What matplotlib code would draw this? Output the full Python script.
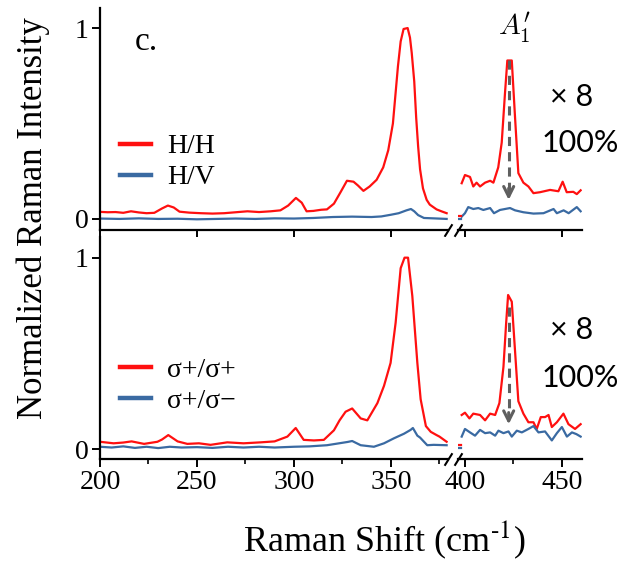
import matplotlib.pyplot as plt
from matplotlib.lines import Line2D

plt.rcParams['font.family'] = ['Liberation Serif', 'DejaVu Serif']
plt.rcParams['mathtext.fontset'] = 'stix'

RED = '#ff1010'
BLUE = '#3a6aa2'
GREY = '#5f5f5f'

# ---- H/H and H/V spectra (top panel) ----
hh_low_x = [200, 204, 208, 212, 216, 220, 224, 228, 232, 235, 238, 241, 246, 252,
            258, 264, 270, 276, 282, 288, 293, 297, 301, 304, 306.5, 310, 314, 317,
            320.6, 324, 327.3, 330.7, 333, 335.8, 339, 342.6, 346, 348.6, 351,
            353.6, 355, 356.5, 358.6, 359.8, 360.7, 362, 363, 364, 365, 366.5,
            368.4, 370, 373.5, 376, 378.7]
hh_low_y = [0.037, 0.035, 0.036, 0.032, 0.040, 0.034, 0.030, 0.032, 0.055, 0.070,
            0.060, 0.038, 0.033, 0.030, 0.028, 0.030, 0.035, 0.040, 0.036, 0.040,
            0.045, 0.070, 0.110, 0.085, 0.040, 0.042, 0.048, 0.050, 0.080, 0.140,
            0.200, 0.195, 0.175, 0.147, 0.170, 0.205, 0.270, 0.360, 0.500, 0.800,
            0.930, 0.995, 1.000, 0.950, 0.870, 0.720, 0.530, 0.380, 0.260, 0.160,
            0.100, 0.075, 0.050, 0.040, 0.030]
hv_low_x = [200, 210, 220, 230, 240, 250, 260, 270, 280, 290, 300, 310, 320, 330,
            340, 345, 350, 354, 358, 360.3, 362, 364, 367, 372, 378.7]
hv_low_y = [0.002, 0.000, 0.003, 0.000, 0.001, -0.002, 0.000, 0.002, 0.000, 0.003,
            0.002, 0.005, 0.010, 0.012, 0.010, 0.013, 0.022, 0.030, 0.045, 0.052,
            0.040, 0.020, 0.005, 0.003, 0.000]

# A1' region, shown x8
hh_high_x = [398.3, 400, 402.6, 404.3, 406, 407.8, 410.4, 413, 414.7, 417.2, 419,
             420.7, 421.9, 424.2, 425.9, 427.6, 430.2, 432.8, 435.4, 438.8, 444,
             448.3, 450.5, 452.6, 456, 457.8, 459.8]
hh_high_y = [0.187, 0.230, 0.220, 0.170, 0.190, 0.170, 0.190, 0.200, 0.190, 0.270,
             0.400, 0.660, 0.830, 0.830, 0.530, 0.240, 0.190, 0.170, 0.135, 0.140,
             0.152, 0.145, 0.195, 0.140, 0.142, 0.130, 0.150]
hv_high_x = [398.3, 400, 401.7, 404.3, 406.9, 409.5, 413, 415, 418.1, 423.3, 425.9,
             430.2, 435.4, 440.6, 445.8, 447.5, 451, 453.6, 457.8, 459.8]
hv_high_y = [0.012, 0.030, 0.062, 0.052, 0.057, 0.047, 0.057, 0.030, 0.047, 0.057,
             0.045, 0.035, 0.028, 0.030, 0.052, 0.030, 0.045, 0.030, 0.062, 0.040]

# ---- circular polarisation spectra (bottom panel) ----
pp_low_x = [200, 207, 212, 216.3, 222.7, 229.6, 232, 235.2, 240, 245, 251, 257,
            265.6, 274, 282.8, 290, 296.6, 300.9, 305, 310.3, 315.4, 320.6, 323.5,
            326.6, 330, 334.4, 337.8, 343, 346.4, 349.8, 352.4, 355, 357, 358.8,
            361, 363.6, 365.3, 368, 370.5, 373.5, 375, 378.7]
pp_low_y = [0.038, 0.030, 0.034, 0.040, 0.027, 0.038, 0.050, 0.073, 0.040, 0.027,
            0.030, 0.022, 0.035, 0.030, 0.035, 0.040, 0.065, 0.110, 0.048, 0.045,
            0.048, 0.098, 0.150, 0.195, 0.212, 0.160, 0.150, 0.240, 0.330, 0.450,
            0.660, 0.945, 1.000, 1.000, 0.800, 0.450, 0.260, 0.120, 0.090, 0.073,
            0.065, 0.038]
pm_low_x = [200, 206, 212, 218, 224, 230, 236, 242, 250, 258, 266, 274, 282, 290,
            300, 308, 317, 322, 327.6, 330, 334.4, 341.2, 346.4, 351.5, 356.7,
            360.1, 361.3, 363.6, 365, 368.7, 372, 378.7]
pm_low_y = [0.012, 0.008, 0.014, 0.006, 0.012, 0.005, 0.012, 0.008, 0.010, 0.006,
            0.012, 0.008, 0.012, 0.008, 0.012, 0.014, 0.020, 0.028, 0.037, 0.042,
            0.020, 0.012, 0.030, 0.056, 0.080, 0.100, 0.110, 0.070, 0.060, 0.020,
            0.022, 0.020]

pp_high_x = [398.3, 400, 402.3, 404.3, 407.8, 410.4, 413, 415.6, 417.8, 419.9,
             421.3, 422.3, 424.2, 425.9, 427.6, 430.2, 432.8, 435.4, 437.1, 439.2,
             441.4, 443.2, 444.9, 447.5, 450.9, 453.5, 456.9, 459.8]
pp_high_y = [0.178, 0.190, 0.160, 0.185, 0.178, 0.150, 0.185, 0.178, 0.240, 0.430,
             0.660, 0.805, 0.770, 0.510, 0.250, 0.185, 0.140, 0.140, 0.105, 0.167,
             0.167, 0.178, 0.115, 0.140, 0.185, 0.130, 0.105, 0.130]
pm_high_x = [398.3, 400, 402.6, 405.2, 407.8, 410.4, 413, 415.6, 417.3, 419.9,
             422.5, 424.2, 426.8, 429.4, 432.8, 435.4, 438, 441.4, 444.9, 447.5,
             450.1, 452.7, 455.3, 457.6, 459.8]
pm_high_y = [0.065, 0.105, 0.087, 0.070, 0.100, 0.083, 0.087, 0.070, 0.096, 0.083,
             0.092, 0.065, 0.096, 0.087, 0.105, 0.120, 0.087, 0.092, 0.045, 0.083,
             0.115, 0.065, 0.087, 0.078, 0.065]

# unscaled stub just before the x8 section
stub_x = [396.6, 398.0]
stub_top = {'red': [0.016, 0.016], 'blue': [0.0, 0.0]}
stub_bottom = {'red': [0.020, 0.020], 'blue': [0.005, 0.005]}

arrow_x = 422.6
arrow_top = [0.83, 0.74]
arrow_tip = [0.085, 0.115]

panels = [
    dict(labels=['H/H', 'H/V'],
         low=[(hh_low_x, hh_low_y), (hv_low_x, hv_low_y)],
         high=[(hh_high_x, hh_high_y), (hv_high_x, hv_high_y)],
         stub=stub_top, ylim=(-0.058, 1.105), bottom_px=230, legend_y=0.306),
    dict(labels=['σ+/σ+', 'σ+/σ−'],
         low=[(pp_low_x, pp_low_y), (pm_low_x, pm_low_y)],
         high=[(pp_high_x, pp_high_y), (pm_high_x, pm_high_y)],
         stub=stub_bottom, ylim=(-0.052, 1.108), bottom_px=459, legend_y=0.331),
]

W, H = 624, 568
fig = plt.figure(figsize=(W / 100, H / 100), dpi=100)

for row, p in enumerate(panels):
    b = 1 - p['bottom_px'] / H
    h = 222 / H
    ax_l = fig.add_axes([100 / W, b, 348 / W, h])
    ax_r = fig.add_axes([458 / W, b, 124 / W, h])

    colors = [RED, BLUE]
    for (x, y), c in zip(p['low'], colors):
        ax_l.plot(x, y, color=c, lw=1.6)
    for (x, y), c in zip(p['high'], colors):
        ax_r.plot(x, y, color=c, lw=1.6)
    ax_r.plot(stub_x, p['stub']['red'], color=RED, lw=1.6)
    ax_r.plot(stub_x, p['stub']['blue'], color=BLUE, lw=1.6)

    ax_l.set_xlim(200, 379.4)
    ax_r.set_xlim(396.4, 460.5)
    for ax in (ax_l, ax_r):
        ax.set_ylim(*p['ylim'])
        for s in ('top', 'right'):
            ax.spines[s].set_visible(False)
        ax.spines['bottom'].set_linewidth(1.6)
        ax.spines['left'].set_linewidth(1.6)
        ax.tick_params(direction='out', width=1.4, length=6, labelsize=20, pad=2)
        ax.tick_params(which='minor', direction='out', width=1.2, length=3.5)
    ax_r.spines['left'].set_visible(False)
    ax_r.tick_params(axis='y', left=False, labelleft=False)
    ax_l.set_yticks([0, 1])
    ax_l.set_xticks([200, 250, 300, 350])
    ax_r.set_xticks([400, 450])
    if row == 1:
        ax_l.set_xticks([225, 275, 325, 375], minor=True)
        ax_r.set_xticks([425], minor=True)
    else:
        ax_l.tick_params(axis='x', labelbottom=False)
        ax_r.tick_params(axis='x', labelbottom=False)

    # axis break marks
    brk = dict(marker=[(-1, -1.6), (1, 1.6)], markersize=9, linestyle='none',
               color='k', mec='k', mew=1.5, clip_on=False)
    ax_l.plot([1], [0], transform=ax_l.transAxes, **brk)
    ax_r.plot([0], [0], transform=ax_r.transAxes, **brk)

    # dashed arrow marking the A1' mode
    ax_r.plot([arrow_x, arrow_x], [arrow_top[row], arrow_tip[row] + 0.06],
              color=GREY, lw=2.2, ls=(0, (3, 2)))
    ax_r.annotate('', xy=(arrow_x, arrow_tip[row]),
                  xytext=(arrow_x, arrow_tip[row] + 0.09),
                  arrowprops=dict(arrowstyle='->', color=GREY, lw=2.2,
                                  mutation_scale=18))

    ax_r.text(455.2, 0.64 if row == 0 else 0.62, '× 8', family='Lato',
              fontsize=22, ha='center', va='center', clip_on=False)
    ax_r.text(459.6, 0.40 if row == 0 else 0.37, '100%', family='Lato',
              fontsize=22, ha='center', va='center', clip_on=False)

    handles = [Line2D([], [], color=c, lw=3.2) for c in colors]
    ax_l.legend(handles, p['labels'], loc='center left',
                bbox_to_anchor=(0.058, p['legend_y']), frameon=False,
                fontsize=20, handlelength=1.1, handletextpad=0.6,
                labelspacing=0.2, borderpad=0, borderaxespad=0)

    if row == 0:
        ax_l.text(223.7, 0.93, 'c.', fontsize=24, ha='center', va='center')
        ax_r.text(425.8, 1.0, r"$A_1'$", fontsize=21, ha='center',
                  va='center', clip_on=False, math_fontfamily='cm')

fig.text(33 / W, 1 - 218 / H, 'Normalized Raman Intensity', rotation=90,
         fontsize=25, ha='center', va='center')
fig.text(384 / W, 1 - 540 / H, r'Raman Shift (cm$^{\text{-1}}$)',
         fontsize=26, ha='center', va='center')

fig.savefig('out.png', dpi=100)
